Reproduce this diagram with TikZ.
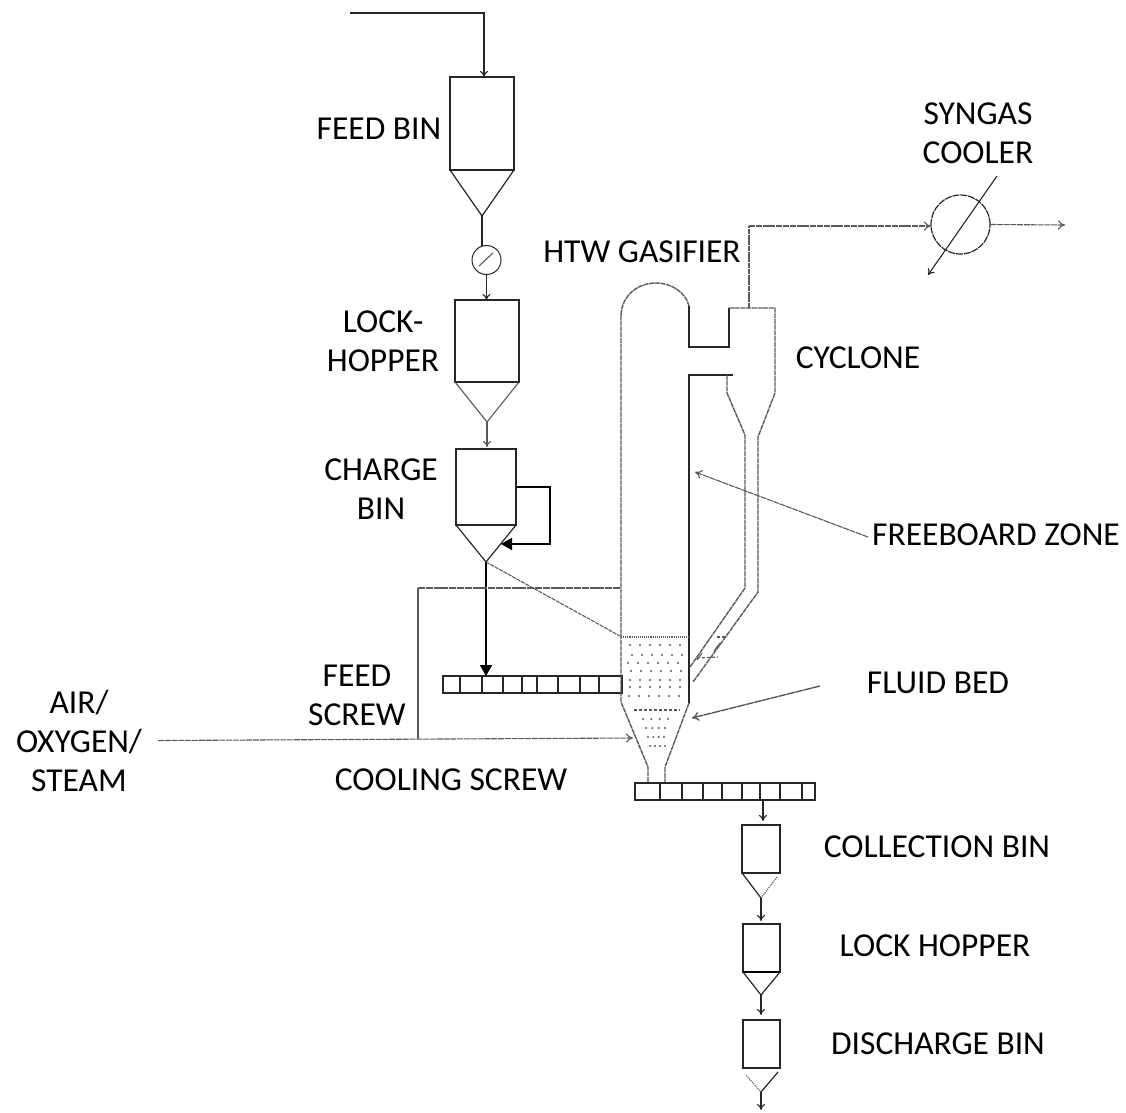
\documentclass[tikz,border=0pt]{standalone}
\usepackage{fontspec}
\setmainfont{Carlito}
\usetikzlibrary{arrows.meta}
\definecolor{ink}{gray}{0.15}
\definecolor{faint}{gray}{0.35}
\tikzset{
 lbl/.style={inner sep=0pt,text=black,align=center,font=\fontsize{33.5}{39}\selectfont},
 pipe/.style={draw=ink,line width=1.2pt},
 thin pipe/.style={draw=faint,line width=1.1pt},
 spk/.style={draw=faint,line width=1.4pt,dash pattern=on 5pt off 0.7pt},
 flow/.style={draw=ink,line width=1.1pt,-{To[length=6pt,width=8pt]}},
 faintflow/.style={draw=faint,line width=1.1pt,dash pattern=on 6pt off 0.8pt,-{To[length=7pt,width=9pt]}},
 solidtip/.style={draw=black,line width=1.9pt,-{Triangle[length=11pt,width=12pt]}},
 binbox/.style={draw=ink,line width=1.3pt,rectangle,inner sep=0pt,outer sep=0pt},
 screwcell/.style={draw=ink,line width=1.2pt,rectangle,inner sep=0pt,outer sep=0pt},
}
\begin{document}
\begin{tikzpicture}[x=1pt,y=-1pt]
\useasboundingbox (0,0) rectangle (1126,1112);
% ---- bins
\node[binbox,minimum width=64pt,minimum height=93pt] (feed) at (482,123.5) {};
\coordinate (feedtip) at (482,216);
\draw[pipe] (feed.south west) -- (feedtip) -- (feed.south east);
\node[draw=ink,line width=1pt,circle,minimum size=29pt,inner sep=0pt,outer sep=0pt] (meter) at (486.5,260) {};
\coordinate (mA) at (479,266); \coordinate (mB) at (493,253);
\draw[thin pipe] (mA) -- (mB);
\node[binbox,minimum width=64pt,minimum height=82pt] (lock) at (487,341) {};
\coordinate (locktip) at (487,422);
\draw[thin pipe] (lock.south west) -- (locktip) -- (lock.south east);
\node[binbox,minimum width=60pt,minimum height=76pt] (charge) at (486,487) {};
\coordinate (chargetip) at (486,562);
\draw[pipe] (charge.south west) -- (chargetip) -- (charge.south east);
\coordinate (feedin) at (350,13);
\coordinate (feedc) at (484,13);
\draw[flow] (feedin) -- (feedc) -- (484,77);
\draw[pipe] (feedtip) -- (feedtip |- meter.north);
\draw[flow] (meter.south) -- (lock.north -| meter.south);
\draw[flow,draw=faint] (locktip) -- (487,447);
% recycle loop on charge bin
\coordinate (loopA) at (550,487);
\coordinate (loopB) at (550,544);
\coordinate (loopC) at (501,544);
\draw[solidtip] (charge.east |- loopA) -- (loopA) -- (loopB) -- (loopC);
% ---- feed screw
\node[screwcell,minimum width=179pt,minimum height=17pt] (fscrew) at (532.5,684.5) {};
\foreach \x in {460,482,503,522,537,558,580,599}
  \draw[pipe] (\x,676) -- (\x,693);
\draw[solidtip] (chargetip) -- (486,676);
% ---- gasifier
\coordinate (gL) at (621,315);
\coordinate (gR) at (689,306);
\coordinate (gT) at (656,283);
\draw[spk] (gL) .. controls (622,295) and (638,283) .. (gT) .. controls (672,283) and (686,293) .. (gR);
\draw[spk] (gL) -- (621,702) -- (648,767) -- (648,783);
\draw[pipe] (gR) -- (689,347) -- (729,347) -- (729,308);
\draw[spk] (729,308) -- (775,308) -- (775,393) -- (758,437) -- (758,592) -- (693,682);
\draw[pipe] (733,375) -- (689,375) -- (689,703);
\draw[spk] (689,703) -- (665,767) -- (665,783);
\draw[spk] (727,375) -- (727,393) -- (745,435) -- (745,588) -- (690,667);
% ---- fluid bed
\draw[thin pipe,densely dotted] (621,637) -- (689,637);
\draw[thin pipe,densely dashed] (634,710) -- (680,710);
\draw[thin pipe,densely dashed] (717,637) -- (727,637);
\draw[thin pipe,densely dashed] (697,658) -- (718,657);
\draw[thin pipe] (702,653) -- (697,660);
\draw[thin pipe] (720,643) -- (714,651);
\foreach \y in {645,655,663,671,680,687,696}
  \foreach \x in {630,640,650,660,670,680}
    \fill[faint] ({\x+mod(\y*3,7)-3},\y) circle (1.1pt);
\foreach \y/\a/\b in {719/643/668,728/646/665,737/648/664,746/650/665}
  \foreach \x in {0,1,2,3}
    \fill[faint] ({\a+\x*(\b-\a)/3},\y) circle (1.1pt);
% ---- cooling + air lines
\node[lbl] (air) at (79,741) {AIR/\\OXYGEN/\\STEAM};
\coordinate (airend) at (633,738);
\coordinate (coolT) at (418,588);
\coordinate (coolB) at (418,739);
\coordinate (coolR) at (620,588);
\draw[thin pipe] (coolB) -- (coolT);
\draw[faint,line width=1.1pt,dash pattern=on 7pt off 0.8pt] (coolT) -- (coolR);
\draw[faintflow] (158,740.5) -- (airend);
\coordinate (gasbed) at (620,636);
\draw[faint,line width=1.1pt,dash pattern=on 4pt off 1pt] (chargetip) -- (gasbed);
% ---- cooling screw
\node[screwcell,minimum width=180pt,minimum height=17pt] (cscrew) at (725,791.5) {};
\foreach \x in {660,682,703,722,742,760,780,802}
  \draw[pipe] (\x,783) -- (\x,800);
% ---- syngas
\node[draw=ink,line width=1.2pt,dash pattern=on 7pt off 0.9pt,circle,minimum size=59pt,inner sep=0pt,outer sep=0pt] (cooler) at (960.5,224.5) {};
\coordinate (sTop) at (749,308);
\coordinate (sC) at (749,226);
\draw[spk] (sTop) -- (sC);
\draw[faintflow] (sC) -- (cooler.west |- sC);
\draw[faintflow] (cooler.east) -- (1065,225);
\coordinate (cA) at (997,176);
\coordinate (cB) at (928,275);
\draw[flow] (cA) -- (cB);
% ---- callouts
\coordinate (fbArrow) at (695,472);
\coordinate (fbFrom) at (868,537);
\draw[faintflow] (fbFrom) -- (fbArrow);
\coordinate (flArrow) at (692,718);
\coordinate (flFrom) at (820,686);
\draw[draw=faint,line width=1.4pt,dash pattern=on 8pt off 0.6pt,-{To[length=7pt,width=9pt]}] (flFrom) -- (flArrow);
% ---- lower bins
\node[binbox,minimum width=38pt,minimum height=48pt] (coll) at (761,849) {};
\coordinate (colltip) at (761,898);
\draw[pipe] (coll.south west) -- (colltip);
\draw[thin pipe,densely dotted] (colltip) -- (777,877);
\node[binbox,minimum width=37pt,minimum height=48pt] (lock2) at (761.5,948) {};
\draw[draw=black,line width=2.2pt] (lock2.south west) -- (lock2.south east);
\coordinate (lock2tip) at (761,995);
\draw[pipe] (lock2.south west) -- (lock2tip) -- (lock2.south east);
\node[binbox,minimum width=37pt,minimum height=48pt] (disch) at (761.5,1044) {};
\coordinate (dischtip) at (761,1092);
\draw[pipe] (dischtip) -- (778,1072);
\draw[thin pipe,densely dotted] (dischtip) -- (746,1075);
\draw[flow] (cscrew.south -| 763,800) -- (763,821);
\draw[flow] (colltip) -- (761,921);
\draw[flow] (lock2tip) -- (761,1015);
\draw[flow] (dischtip) -- (761,1110);
% ---- labels
\node[lbl] (tFeedBin) at (379,129) {FEED BIN};
\node[lbl] (tSyngas) at (978,133) {SYNGAS\\COOLER};
\node[lbl] (tHtw) at (642,252) {HTW GASIFIER};
\node[lbl] (tLock) at (383,341) {LOCK-\\HOPPER};
\node[lbl] (tCharge) at (381,489) {CHARGE\\BIN};
\node[lbl] (tCyclone) at (858,358) {CYCLONE};
\node[lbl] (tFree) at (996,535) {FREEBOARD ZONE};
\node[lbl] (tFeedScrew) at (357,695) {FEED\\SCREW};
\node[lbl] (tFluid) at (938,683) {FLUID BED};
\node[lbl] (tCool) at (451,780) {COOLING SCREW};
\node[lbl] (tColl) at (937,847) {COLLECTION BIN};
\node[lbl] (tLock2) at (935,946) {LOCK HOPPER};
\node[lbl] (tDisch) at (938,1044) {DISCHARGE BIN};
\end{tikzpicture}
\end{document}
